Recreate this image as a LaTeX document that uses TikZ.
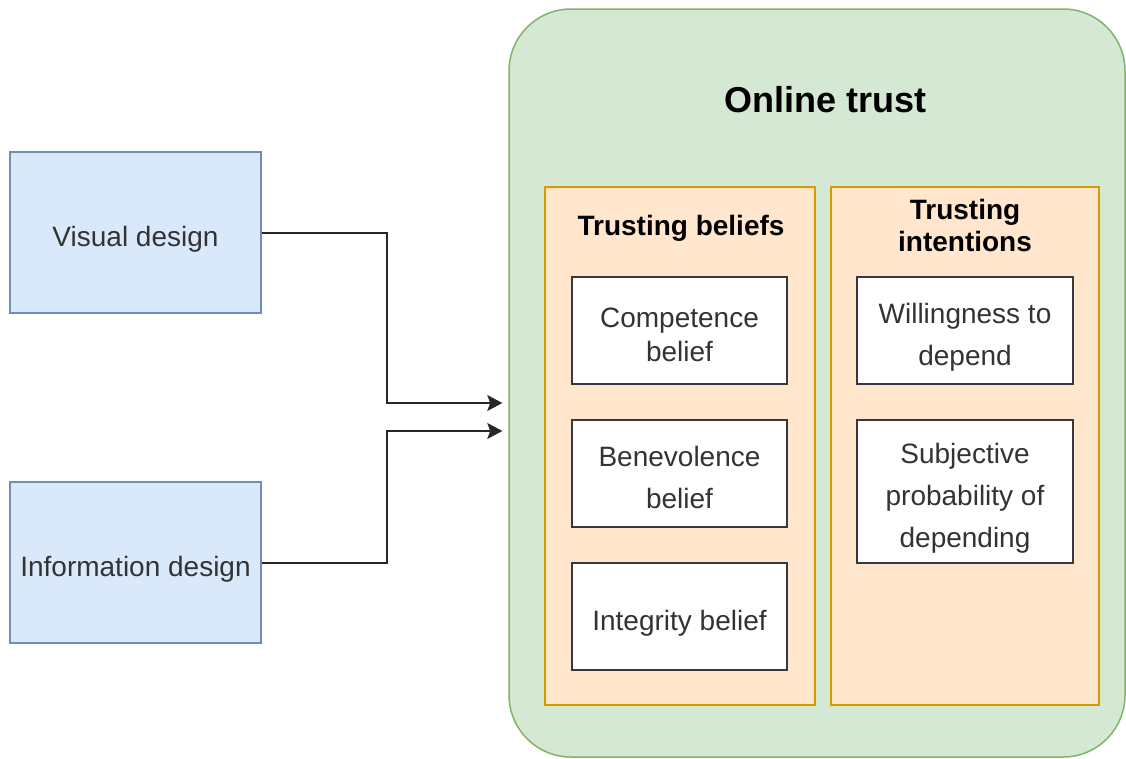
\documentclass[tikz,border=0pt]{standalone}
\usepackage{fontspec}
\setmainfont{Liberation Sans}
\usetikzlibrary{arrows.meta}
\definecolor{bluefill}{HTML}{DAE8FC}
\definecolor{blueline}{HTML}{6C8EBF}
\definecolor{greenfill}{HTML}{D5E8D4}
\definecolor{greenline}{HTML}{82B366}
\definecolor{orangefill}{HTML}{FFE6CC}
\definecolor{orangeline}{HTML}{D79B00}
\definecolor{boxline}{HTML}{36393D}
\definecolor{txt}{HTML}{333333}
\newcommand\myup{\rule{0pt}{34pt}}
\newcommand\mydn{\rule[-6pt]{0pt}{6pt}}
\begin{document}
\begin{tikzpicture}[x=1pt,y=-1pt,
  inbox/.style={draw=blueline, fill=bluefill, line width=1.5pt, minimum width=251pt, minimum height=161pt, inner sep=0pt, text=txt, font=\fontsize{28}{34}\selectfont},
  outer/.style={draw=greenline, fill=greenfill, line width=1.5pt, rounded corners=62pt, minimum width=616pt, minimum height=748pt, inner sep=0pt},
  panel/.style={draw=orangeline, fill=orangefill, line width=1.5pt, minimum height=518pt, inner sep=0pt},
  ttl/.style={font=\bfseries\fontsize{28}{32}\selectfont, align=center, text=black},
  wbox/.style={draw=boxline, fill=white, line width=1.5pt, minimum height=107pt, inner sep=0pt, align=center, text=txt, font=\fontsize{28}{42}\selectfont},
  conn/.style={draw=black!85, line width=2pt, -{Stealth[length=15pt,width=16pt,inset=3pt,line width=0.5pt]}}
]
\useasboundingbox (0,0) rectangle (1126,758);
\node[outer] (trust) at (817,383) {};
\node[font=\bfseries\fontsize{36}{40}\selectfont] (title) at (825,100) {Online trust};
\node[panel, minimum width=270pt] (bel) at (680,446) {};
\node[panel, minimum width=268pt] (int) at (965,446) {};
\node[ttl] (beltitle) at (681,228) {Trusting beliefs};
\node[ttl] (inttitle) at (965,225) {Trusting\\intentions};
\node[wbox, minimum width=215pt, font=\fontsize{28}{34}\selectfont] (comp) at (679.5,330.5) {\myup Competence\\belief\mydn};
\node[wbox, minimum width=215pt] (bene) at (679.5,473.5) {\myup Benevolence\\belief\mydn};
\node[wbox, minimum width=215pt] (integ) at (679.5,616.5) {\myup Integrity belief\mydn};
\node[wbox, minimum width=216pt] (will) at (965,330.5) {\myup Willingness to\\depend\mydn};
\node[wbox, minimum width=216pt, minimum height=143pt] (subj) at (965,491.5) {\myup Subjective\\probability of\\depending\mydn};
\node[inbox] (vis) at (135.5,232.5) {\myup Visual design\mydn};
\node[inbox] (info) at (135.5,562.5) {\myup Information design\mydn};
\draw[conn] (vis.east) -- ++(125,0) |- ([xshift=-6pt,yshift=-20pt]trust.west);
\draw[conn] (info.east) -- ++(125,0) |- ([xshift=-6pt,yshift=-48pt]trust.west);
\end{tikzpicture}
\end{document}
